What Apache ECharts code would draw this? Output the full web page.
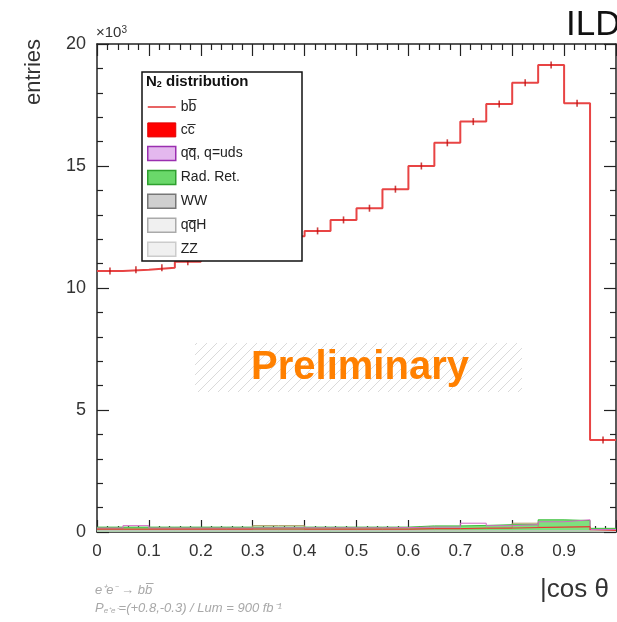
<!DOCTYPE html>
<html>
<head>
<meta charset="utf-8">
<title>N2 distribution</title>
<script src="https://cdn.jsdelivr.net/npm/echarts@6/dist/echarts.min.js"></script>
<style>
	html, body { margin: 0; padding: 0; background: #fff; }
	#main { width: 617px; height: 622px; }
</style>
</head>
<body>
<div id="main"></div>
<script>
// |cos theta| bin edges (bin width 0.05)
var binEdges = [0, 0.05, 0.1, 0.15, 0.2, 0.25, 0.3, 0.35, 0.4, 0.45, 0.5,
	0.55, 0.6, 0.65, 0.7, 0.75, 0.8, 0.85, 0.9, 0.95, 1.0];

// entries per bin, x10^3
var bbValues = [10.70, 10.75, 10.83, 11.08, 11.30, 11.58, 11.86, 12.12, 12.34, 12.79,
	13.27, 14.05, 15.00, 15.95, 16.82, 17.54, 18.41, 19.14, 17.57, 3.77];
var ccValues = [0.12, 0.12, 0.12, 0.12, 0.12, 0.12, 0.12, 0.12, 0.12, 0.12,
	0.12, 0.12, 0.14, 0.14, 0.16, 0.16, 0.18, 0.2, 0.22, 0.06];
var qqValues = [0.16, 0.26, 0.16, 0.16, 0.16, 0.16, 0.17, 0.17, 0.17, 0.17,
	0.17, 0.18, 0.2, 0.2, 0.36, 0.26, 0.3, 0.42, 0.5, 0.1];
var radRetValues = [0.2, 0.2, 0.2, 0.2, 0.2, 0.2, 0.2, 0.2, 0.2, 0.2,
	0.2, 0.2, 0.25, 0.25, 0.27, 0.3, 0.3, 0.5, 0.47, 0.15];
var wwValues = [0.1, 0.1, 0.1, 0.1, 0.1, 0.1, 0.26, 0.26, 0.1, 0.1,
	0.1, 0.1, 0.12, 0.12, 0.14, 0.16, 0.36, 0.2, 0.2, 0.05];
var qqhValues = [0.05, 0.05, 0.05, 0.05, 0.05, 0.05, 0.05, 0.05, 0.05, 0.05,
	0.05, 0.05, 0.05, 0.05, 0.05, 0.05, 0.05, 0.05, 0.05, 0.02];
var zzValues = [0.04, 0.04, 0.04, 0.04, 0.04, 0.04, 0.04, 0.04, 0.04, 0.04,
	0.04, 0.04, 0.04, 0.04, 0.04, 0.04, 0.04, 0.04, 0.04, 0.02];

var FONT = '"Liberation Sans", Arial, Helvetica, sans-serif';
var OV = '\u0305'; // combining overline

var names = {
	bb: 'b' + 'b' + OV,
	cc: 'c' + 'c' + OV,
	qq: 'q' + 'q' + OV + ', q=uds',
	rad: 'Rad. Ret.',
	ww: 'WW',
	qqh: 'q' + 'q' + OV + 'H',
	zz: 'ZZ'
};

// histogram -> step points at bin edges
function toSteps(values) {
	return binEdges.map(function (e, i) {
		return [e, values[Math.min(i, values.length - 1)]];
	});
}
function toCentres(values) {
	return values.map(function (v, i) {
		return [(binEdges[i] + binEdges[i + 1]) / 2, v];
	});
}

function stepLine(name, values, color, width, area) {
	var s = {
		name: name,
		type: 'line',
		step: 'end',
		symbol: 'none',
		animation: false,
		data: toSteps(values),
		lineStyle: { color: color, width: width },
		itemStyle: { color: color },
		z: 2
	};
	if (area) s.areaStyle = { color: area, opacity: 1 };
	return s;
}

// hatch pattern for the Preliminary box
var hatch = document.createElement('canvas');
hatch.width = 10;
hatch.height = 10;
var hc = hatch.getContext('2d');
hc.strokeStyle = '#dadada';
hc.lineWidth = 1;
hc.beginPath();
hc.moveTo(0, 10); hc.lineTo(10, 0);
hc.moveTo(-5, 5); hc.lineTo(5, -5);
hc.moveTo(5, 15); hc.lineTo(15, 5);
hc.stroke();

var chart = echarts.init(document.getElementById('main'), null, { renderer: 'canvas' });

var axisColor = '#222';
var option = {
	backgroundColor: '#fff',
	animation: false,
	textStyle: { fontFamily: FONT },
	grid: { left: 97, right: 1, top: 44, bottom: 90, containLabel: false },
	xAxis: [
		{
			type: 'value', min: 0, max: 1, interval: 0.1, position: 'bottom',
			axisLine: { onZero: false, lineStyle: { color: axisColor, width: 1.5 } },
			axisTick: { inside: true, length: 12, lineStyle: { color: axisColor, width: 1.2 } },
			minorTick: { show: true, splitNumber: 5, length: 6, lineStyle: { color: axisColor, width: 1.2 } },
			splitLine: { show: false },
			axisLabel: {
				fontSize: 17, color: '#333', margin: 11, showMaxLabel: false, fontFamily: FONT,
				formatter: function (v) { return v === 0 ? '0' : v.toFixed(1); }
			}
		},
		{
			type: 'value', min: 0, max: 1, interval: 0.1, position: 'top',
			axisLine: { onZero: false, lineStyle: { color: axisColor, width: 1.5 } },
			axisTick: { inside: true, length: 12, lineStyle: { color: axisColor, width: 1.2 } },
			minorTick: { show: true, splitNumber: 5, length: 6, lineStyle: { color: axisColor, width: 1.2 } },
			splitLine: { show: false },
			axisLabel: { show: false }
		}
	],
	yAxis: [
		{
			type: 'value', min: 0, max: 20, interval: 5, position: 'left',
			axisLine: { show: true, onZero: false, lineStyle: { color: axisColor, width: 1.5 } },
			axisTick: { show: true, inside: true, length: 12, lineStyle: { color: axisColor, width: 1.2 } },
			minorTick: { show: true, splitNumber: 5, length: 6, lineStyle: { color: axisColor, width: 1.2 } },
			splitLine: { show: false },
			axisLabel: { fontSize: 18, color: '#333', margin: 11, fontFamily: FONT }
		},
		{
			type: 'value', min: 0, max: 20, interval: 5, position: 'right',
			axisLine: { show: true, onZero: false, lineStyle: { color: axisColor, width: 1.5 } },
			axisTick: { show: true, inside: true, length: 12, lineStyle: { color: axisColor, width: 1.2 } },
			minorTick: { show: true, splitNumber: 5, length: 6, lineStyle: { color: axisColor, width: 1.2 } },
			splitLine: { show: false },
			axisLabel: { show: false }
		}
	],
	legend: {
		orient: 'vertical',
		left: 147,
		top: 100,
		itemWidth: 28,
		itemHeight: 14,
		itemGap: 8.4,
		padding: 0,
		selectedMode: false,
		z: 6,
		textStyle: { fontSize: 14, color: '#222', fontFamily: FONT },
		data: [
			{ name: names.bb, itemStyle: { opacity: 0 }, lineStyle: { color: '#e03030', width: 1.5 } },
			{ name: names.cc, icon: 'rect', itemStyle: { color: '#ff0000', borderColor: '#e00000', borderWidth: 1 } },
			{ name: names.qq, icon: 'rect', itemStyle: { color: '#e4b8ee', borderColor: '#9a2fb0', borderWidth: 1.5 } },
			{ name: names.rad, icon: 'rect', itemStyle: { color: '#6ad86a', borderColor: '#2fa02f', borderWidth: 1.5 } },
			{ name: names.ww, icon: 'rect', itemStyle: { color: '#cfcfcf', borderColor: '#777', borderWidth: 1.5 } },
			{ name: names.qqh, icon: 'rect', itemStyle: { color: '#f0f0f0', borderColor: '#aaa', borderWidth: 1.5 } },
			{ name: names.zz, icon: 'rect', itemStyle: { color: '#f0f0f0', borderColor: '#ccc', borderWidth: 1.5 } }
		]
	},
	graphic: [
		// legend frame
		{
			type: 'rect', z: 5, silent: true,
			shape: { x: 142, y: 72, width: 160, height: 189 },
			style: { fill: '#fff', stroke: '#111', lineWidth: 1.5 }
		},
		{
			type: 'text', z: 7, silent: true, left: 146, top: 74,
			style: {
				text: 'N{s|2} distribution',
				font: 'bold 15px ' + FONT, fill: '#111',
				rich: { s: { fontSize: 9, fontWeight: 'bold', verticalAlign: 'bottom', padding: [6, 0, 0, 0] } }
			}
		},
		// Preliminary stamp
		{
			type: 'rect', z: 1, silent: true,
			shape: { x: 195, y: 343, width: 327, height: 49 },
			style: { fill: { image: hatch, repeat: 'repeat' } }
		},
		{
			type: 'text', z: 1, silent: true, x: 360, y: 368,
			style: {
				text: 'Preliminary', font: 'bold 40px ' + FONT, fill: '#ff8000',
				align: 'center', verticalAlign: 'middle'
			}
		},
		{
			type: 'text', silent: true, x: 566, y: 25,
			style: { text: 'ILD', font: '35px ' + FONT, fill: '#111', verticalAlign: 'middle' }
		},
		{
			type: 'text', silent: true, x: 96, y: 33,
			style: {
				text: '\u00d710{p|3}', font: '15px ' + FONT, fill: '#333', verticalAlign: 'middle',
				rich: { p: { fontSize: 10, verticalAlign: 'top', padding: [0, 0, 6, 0] } }
			}
		},
		{
			type: 'text', silent: true, x: 34, y: 72, rotation: Math.PI / 2,
			style: { text: 'entries', font: '22px ' + FONT, fill: '#333', align: 'center', verticalAlign: 'middle' }
		},
		{
			type: 'text', silent: true, x: 540, y: 590,
			style: { text: '|cos \u03b8', font: '26px ' + FONT, fill: '#333', verticalAlign: 'middle' }
		},
		{
			type: 'text', silent: true, x: 95, y: 590,
			style: {
				text: 'e\u207ae\u207b \u2192 b' + 'b' + OV,
				font: 'italic 13px ' + FONT, fill: '#a8a8a8', verticalAlign: 'middle'
			}
		},
		{
			type: 'text', silent: true, x: 95, y: 608,
			style: {
				text: 'P{s|e\u207ae\u207b}=(+0.8,-0.3) / Lum = 900 fb\u207b\u00b9',
				font: 'italic 13px ' + FONT, fill: '#a8a8a8', verticalAlign: 'middle',
				rich: { s: { fontSize: 8, fontStyle: 'italic', verticalAlign: 'bottom', padding: [5, 0, 0, 0] } }
			}
		}
	],
	series: [
		stepLine(names.rad, radRetValues, '#3cbf3c', 1, '#7ee07e'),
		stepLine(names.ww, wwValues, '#a89a60', 1, null),
		stepLine(names.qq, qqValues, '#d468c4', 1, null),
		stepLine(names.cc, ccValues, '#ee3030', 1, null),
		stepLine(names.qqh, qqhValues, '#bbbbbb', 1, null),
		stepLine(names.zz, zzValues, '#cccccc', 1, null),
		stepLine(names.bb, bbValues, '#e84444', 2, null),
		{
			name: 'bb-err',
			type: 'scatter',
			animation: false,
			symbol: 'rect',
			symbolSize: [1.6, 7],
			itemStyle: { color: '#c01010' },
			data: toCentres(bbValues),
			z: 3
		}
	]
};

chart.setOption(option);
</script>
</body>
</html>
